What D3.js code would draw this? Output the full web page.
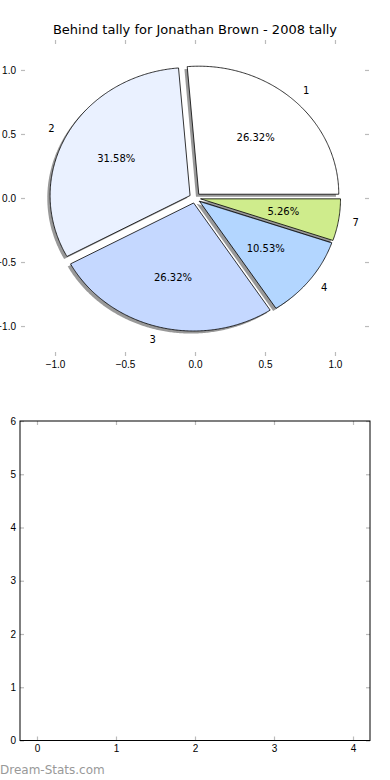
<!DOCTYPE html>
<html>
<head>
<meta charset="utf-8">
<script src="https://cdn.jsdelivr.net/npm/d3@7"></script>
<style>
  body { margin: 0; background: #fff; }
  svg { display: block; font-family: "DejaVu Sans", sans-serif; }
  .tick line { stroke: #bbb; stroke-width: 1.2; }
  .tick text { fill: #000; font-size: 10px; }
</style>
</head>
<body>
<div id="screen"></div>
<script>
// data
var title      = 'Behind tally for Jonathan Brown - 2008 tally',
    categories = ['1', '2', '3', '4', '7'],
    counts     = [5, 6, 5, 2, 1],
    colors     = ['#ffffff', '#eaf1ff', '#c5d8ff', '#b3d6ff', '#cfec8c'],
    pieTicks   = [-1, -0.5, 0, 0.5, 1],
    barXTicks  = [0, 1, 2, 3, 4],
    barYTicks  = [0, 1, 2, 3, 4, 5, 6];

var explode = 0.04, shadowOff = 0.02;

var svg = d3.select('#screen')
            .append('svg')
            .attr('width', 390)
            .attr('height', 780);

// ---- pie panel (axes frame hidden, ticks kept) ----
var px = d3.scaleLinear().domain([-1.243, 1.243]).range([21, 369]),
    py = d3.scaleLinear().domain([-1.234, 1.234]).range([356, 40]);

svg.append('text')
   .attr('x', 195).attr('y', 34)
   .attr('text-anchor', 'middle')
   .style('font-size', '13px')
   .text(title);

function tickAxis(g, axis) {
  g.call(axis);
  g.select('.domain').remove();
}

svg.append('g').attr('transform', 'translate(0,356)')
   .call(tickAxis, d3.axisBottom(px).tickValues(pieTicks).tickFormat(d3.format('.1f')).tickSize(-4).tickPadding(5));
svg.append('g').attr('transform', 'translate(0,40)')
   .call(tickAxis, d3.axisTop(px).tickValues(pieTicks).tickFormat('').tickSize(-4));
svg.append('g').attr('transform', 'translate(21,0)')
   .call(tickAxis, d3.axisLeft(py).tickValues(pieTicks).tickFormat(d3.format('.1f')).tickSize(-4).tickPadding(5));
svg.append('g').attr('transform', 'translate(369,0)')
   .call(tickAxis, d3.axisRight(py).tickValues(pieTicks).tickFormat('').tickSize(-4));

var total = d3.sum(counts);
var arcs = d3.pie().sort(null).startAngle(0).endAngle(2 * Math.PI)(counts);

// wedge outline in data coords, angles counter-clockwise from east
function wedge(a, cx, cy) {
  var pts = [[cx, cy]],
      n = Math.max(2, Math.ceil((a.endAngle - a.startAngle) / 0.01));
  for (var i = 0; i <= n; i++) {
    var t = a.startAngle + (a.endAngle - a.startAngle) * i / n;
    pts.push([cx + Math.cos(t), cy + Math.sin(t)]);
  }
  return d3.line().x(function(p) { return px(p[0]); })
                  .y(function(p) { return py(p[1]); })(pts) + 'Z';
}

var pieG = svg.append('g');
arcs.forEach(function(a, i) {
  var mid = (a.startAngle + a.endAngle) / 2,
      cx = explode * Math.cos(mid),
      cy = explode * Math.sin(mid);

  pieG.append('path')
      .attr('d', wedge(a, cx - shadowOff, cy - shadowOff))
      .attr('fill', '#000')
      .attr('fill-opacity', 0.4);

  pieG.append('path')
      .attr('d', wedge(a, cx, cy))
      .attr('fill', colors[i])
      .attr('stroke', '#000')
      .attr('stroke-width', 0.8)
      .attr('stroke-linejoin', 'round');

  var lx = cx + 1.1 * Math.cos(mid), ly = cy + 1.1 * Math.sin(mid);
  pieG.append('text')
      .attr('x', px(lx)).attr('y', py(ly))
      .attr('dy', '0.35em')
      .attr('text-anchor', lx > 0 ? 'start' : 'end')
      .style('font-size', '10px')
      .text(categories[i]);

  pieG.append('text')
      .attr('x', px(cx + 0.6 * Math.cos(mid))).attr('y', py(cy + 0.6 * Math.sin(mid)))
      .attr('dy', '0.35em')
      .attr('text-anchor', 'middle')
      .style('font-size', '10px')
      .text(d3.format('.2f')(counts[i] / total * 100) + '%');
});

// ---- empty lower panel ----
var bx = d3.scaleLinear().domain([-0.215, 4.215]).range([20, 370]),
    by = d3.scaleLinear().domain([0, 6]).range([740.5, 421]);

svg.append('g').attr('transform', 'translate(0,740.5)')
   .call(tickAxis, d3.axisBottom(bx).tickValues(barXTicks).tickFormat(d3.format('d')).tickSize(-4).tickPadding(4));
svg.append('g').attr('transform', 'translate(0,421)')
   .call(tickAxis, d3.axisTop(bx).tickValues(barXTicks).tickFormat('').tickSize(-4));
svg.append('g').attr('transform', 'translate(20,0)')
   .call(tickAxis, d3.axisLeft(by).tickValues(barYTicks).tickFormat(d3.format('d')).tickSize(-4).tickPadding(4));
svg.append('g').attr('transform', 'translate(370,0)')
   .call(tickAxis, d3.axisRight(by).tickValues(barYTicks).tickFormat('').tickSize(-4));

svg.append('rect')
   .attr('x', bx.range()[0]).attr('y', by.range()[1])
   .attr('width', bx.range()[1] - bx.range()[0])
   .attr('height', by.range()[0] - by.range()[1])
   .attr('fill', 'none')
   .attr('stroke', '#000')
   .attr('stroke-width', 1);

svg.append('text')
   .attr('x', 0).attr('y', 774)
   .style('font-size', '12px')
   .attr('fill', '#999')
   .text('Dream-Stats.com');
</script>
</body>
</html>
